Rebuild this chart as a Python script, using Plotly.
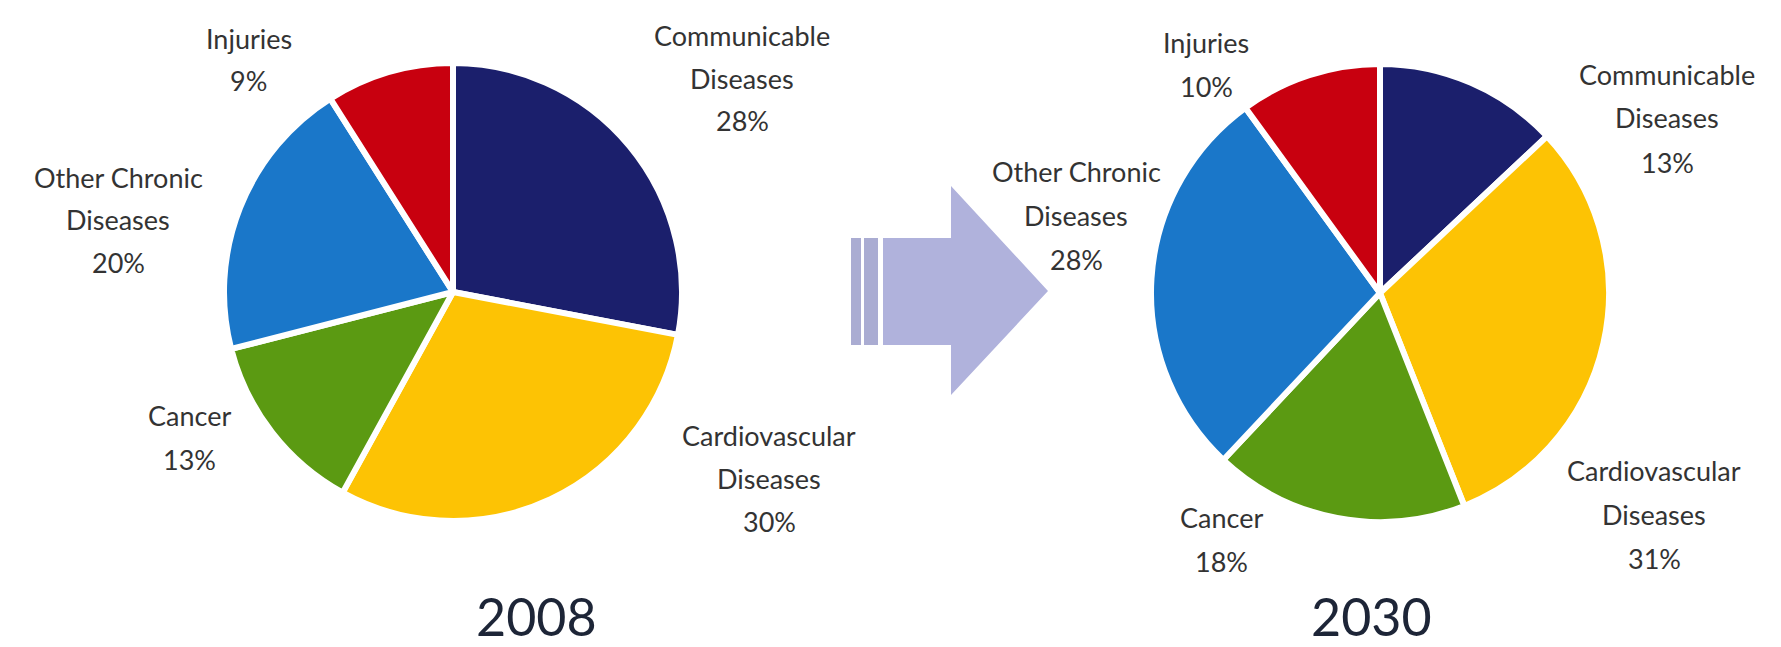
import plotly.graph_objects as go

# ---------------- data ----------------
categories = ["Communicable\nDiseases", "Cardiovascular\nDiseases", "Cancer",
              "Other Chronic\nDiseases", "Injuries"]
values_2008 = [28, 30, 13, 20, 9]
values_2030 = [13, 31, 18, 28, 10]
years = ["2008", "2030"]

colors = ["#1b1f6c", "#fdc304", "#5b9a12", "#1a77c9", "#c8000f"]

# ---------------- layout config (pixels) ----------------
W, H = 1781, 647
PIE_CENTERS = [(445, 284), (1372, 285)]
PIE_R = 229
LABEL_ANCHORS = [
    [(734, 27), (761, 427), (181, 408), (110, 169), (241, 30)],
    [(1659, 66), (1646, 462), (1213, 509), (1068, 163), (1198, 35)],
]
LINE_GAP = [43, 44]
YEAR_POS = [(528, 608), (1363, 608)]


def px(x, y):
    return x / W, 1 - y / H


fig = go.Figure()
annotations = []
for k, vals in enumerate([values_2008, values_2030]):
    cx, cy = PIE_CENTERS[k]
    fig.add_trace(go.Pie(
        labels=[c.replace("\n", " ") for c in categories],
        values=vals,
        sort=False,
        direction="clockwise",
        rotation=0,
        textinfo="none",
        marker=dict(colors=colors, line=dict(color="white", width=6)),
        domain=dict(x=[(cx - PIE_R) / W, (cx + PIE_R) / W],
                    y=[1 - (cy + PIE_R) / H, 1 - (cy - PIE_R) / H]),
        showlegend=False,
    ))
    for i, cat in enumerate(categories):
        lines = cat.split("\n") + [f"{vals[i]}%"]
        ax, ay = LABEL_ANCHORS[k][i]
        for j, line in enumerate(lines):
            xp, yp = px(ax, ay + j * LINE_GAP[k])
            annotations.append(dict(
                x=xp, y=yp, xref="paper", yref="paper", text=line,
                showarrow=False, xanchor="center", yanchor="middle",
                font=dict(family="Lato", size=27, color="#333333")))
    xp, yp = px(*YEAR_POS[k])
    annotations.append(dict(
        x=xp, y=yp, xref="paper", yref="paper", text=years[k],
        showarrow=False, xanchor="center", yanchor="middle", borderpad=0,
        font=dict(family="Lato", size=52, color="#1d2537")))


# ---------------- arrow decoration ----------------
def path(points):
    pts = [px(x, y) for x, y in points]
    return "M " + " L ".join(f"{a:.5f},{b:.5f}" for a, b in pts) + " Z"


shapes = []
for x0, x1 in [(843, 853), (856, 870)]:
    shapes.append(dict(type="path", xref="paper", yref="paper",
                       path=path([(x0, 230), (x1, 230), (x1, 337), (x0, 337)]),
                       fillcolor="#aaacd2", line=dict(width=0)))
shapes.append(dict(type="path", xref="paper", yref="paper",
                   path=path([(875, 230), (943, 230), (943, 178), (1040, 283),
                              (943, 387), (943, 337), (875, 337)]),
                   fillcolor="#b0b2dc", line=dict(width=0)))

fig.update_layout(
    width=W, height=H,
    margin=dict(l=0, r=0, t=0, b=0),
    paper_bgcolor="white", plot_bgcolor="white",
    annotations=annotations,
    shapes=shapes,
)

fig.write_html("out.html")
